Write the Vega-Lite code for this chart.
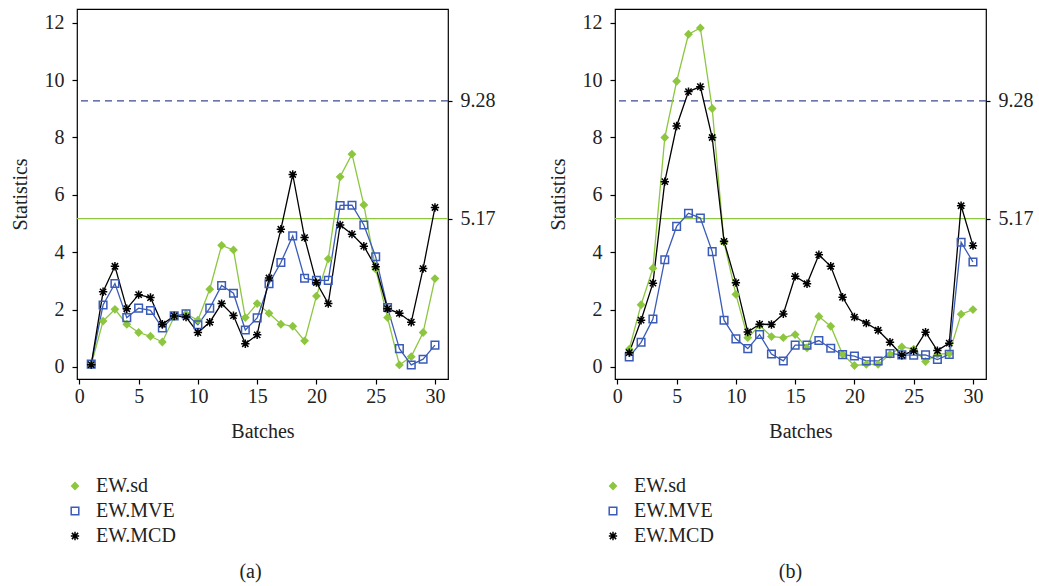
{
  "$schema": "https://vega.github.io/schema/vega-lite/v6.json",
  "padding": {"left": 9, "top": 8, "right": 0, "bottom": 0},
  "background": "white",
  "spacing": 167,
  "bounds": "flush",
  "datasets": {
    "a": [
      {"batch":1,"series":"EW.sd","value":0.08},{"batch":2,"series":"EW.sd","value":1.60},{"batch":3,"series":"EW.sd","value":2.01},{"batch":4,"series":"EW.sd","value":1.49},{"batch":5,"series":"EW.sd","value":1.20},{"batch":6,"series":"EW.sd","value":1.07},{"batch":7,"series":"EW.sd","value":0.87},{"batch":8,"series":"EW.sd","value":1.75},{"batch":9,"series":"EW.sd","value":1.85},{"batch":10,"series":"EW.sd","value":1.63},{"batch":11,"series":"EW.sd","value":2.71},{"batch":12,"series":"EW.sd","value":4.24},{"batch":13,"series":"EW.sd","value":4.08},{"batch":14,"series":"EW.sd","value":1.72},{"batch":15,"series":"EW.sd","value":2.21},{"batch":16,"series":"EW.sd","value":1.87},{"batch":17,"series":"EW.sd","value":1.49},{"batch":18,"series":"EW.sd","value":1.42},{"batch":19,"series":"EW.sd","value":0.91},{"batch":20,"series":"EW.sd","value":2.47},{"batch":21,"series":"EW.sd","value":3.77},{"batch":22,"series":"EW.sd","value":6.63},{"batch":23,"series":"EW.sd","value":7.42},{"batch":24,"series":"EW.sd","value":5.65},{"batch":25,"series":"EW.sd","value":3.41},{"batch":26,"series":"EW.sd","value":1.72},{"batch":27,"series":"EW.sd","value":0.07},{"batch":28,"series":"EW.sd","value":0.36},{"batch":29,"series":"EW.sd","value":1.20},{"batch":30,"series":"EW.sd","value":3.08},
      {"batch":1,"series":"EW.MVE","value":0.10},{"batch":2,"series":"EW.MVE","value":2.16},{"batch":3,"series":"EW.MVE","value":2.91},{"batch":4,"series":"EW.MVE","value":1.72},{"batch":5,"series":"EW.MVE","value":2.05},{"batch":6,"series":"EW.MVE","value":1.97},{"batch":7,"series":"EW.MVE","value":1.36},{"batch":8,"series":"EW.MVE","value":1.78},{"batch":9,"series":"EW.MVE","value":1.85},{"batch":10,"series":"EW.MVE","value":1.47},{"batch":11,"series":"EW.MVE","value":2.05},{"batch":12,"series":"EW.MVE","value":2.84},{"batch":13,"series":"EW.MVE","value":2.57},{"batch":14,"series":"EW.MVE","value":1.29},{"batch":15,"series":"EW.MVE","value":1.71},{"batch":16,"series":"EW.MVE","value":2.90},{"batch":17,"series":"EW.MVE","value":3.64},{"batch":18,"series":"EW.MVE","value":4.57},{"batch":19,"series":"EW.MVE","value":3.09},{"batch":20,"series":"EW.MVE","value":3.02},{"batch":21,"series":"EW.MVE","value":3.02},{"batch":22,"series":"EW.MVE","value":5.63},{"batch":23,"series":"EW.MVE","value":5.64},{"batch":24,"series":"EW.MVE","value":4.95},{"batch":25,"series":"EW.MVE","value":3.84},{"batch":26,"series":"EW.MVE","value":2.07},{"batch":27,"series":"EW.MVE","value":0.64},{"batch":28,"series":"EW.MVE","value":0.07},{"batch":29,"series":"EW.MVE","value":0.27},{"batch":30,"series":"EW.MVE","value":0.76},
      {"batch":1,"series":"EW.MCD","value":0.08},{"batch":2,"series":"EW.MCD","value":2.62},{"batch":3,"series":"EW.MCD","value":3.51},{"batch":4,"series":"EW.MCD","value":2.03},{"batch":5,"series":"EW.MCD","value":2.52},{"batch":6,"series":"EW.MCD","value":2.42},{"batch":7,"series":"EW.MCD","value":1.49},{"batch":8,"series":"EW.MCD","value":1.78},{"batch":9,"series":"EW.MCD","value":1.74},{"batch":10,"series":"EW.MCD","value":1.20},{"batch":11,"series":"EW.MCD","value":1.56},{"batch":12,"series":"EW.MCD","value":2.21},{"batch":13,"series":"EW.MCD","value":1.79},{"batch":14,"series":"EW.MCD","value":0.81},{"batch":15,"series":"EW.MCD","value":1.12},{"batch":16,"series":"EW.MCD","value":3.10},{"batch":17,"series":"EW.MCD","value":4.80},{"batch":18,"series":"EW.MCD","value":6.71},{"batch":19,"series":"EW.MCD","value":4.51},{"batch":20,"series":"EW.MCD","value":2.94},{"batch":21,"series":"EW.MCD","value":2.21},{"batch":22,"series":"EW.MCD","value":4.95},{"batch":23,"series":"EW.MCD","value":4.63},{"batch":24,"series":"EW.MCD","value":4.21},{"batch":25,"series":"EW.MCD","value":3.49},{"batch":26,"series":"EW.MCD","value":2.03},{"batch":27,"series":"EW.MCD","value":1.87},{"batch":28,"series":"EW.MCD","value":1.56},{"batch":29,"series":"EW.MCD","value":3.43},{"batch":30,"series":"EW.MCD","value":5.56}
    ],
    "b": [
      {"batch":1,"series":"EW.sd","value":0.62},{"batch":2,"series":"EW.sd","value":2.17},{"batch":3,"series":"EW.sd","value":3.44},{"batch":4,"series":"EW.sd","value":8.00},{"batch":5,"series":"EW.sd","value":9.96},{"batch":6,"series":"EW.sd","value":11.60},{"batch":7,"series":"EW.sd","value":11.82},{"batch":8,"series":"EW.sd","value":9.01},{"batch":9,"series":"EW.sd","value":4.35},{"batch":10,"series":"EW.sd","value":2.53},{"batch":11,"series":"EW.sd","value":1.02},{"batch":12,"series":"EW.sd","value":1.45},{"batch":13,"series":"EW.sd","value":1.06},{"batch":14,"series":"EW.sd","value":1.02},{"batch":15,"series":"EW.sd","value":1.13},{"batch":16,"series":"EW.sd","value":0.67},{"batch":17,"series":"EW.sd","value":1.76},{"batch":18,"series":"EW.sd","value":1.42},{"batch":19,"series":"EW.sd","value":0.44},{"batch":20,"series":"EW.sd","value":0.05},{"batch":21,"series":"EW.sd","value":0.09},{"batch":22,"series":"EW.sd","value":0.09},{"batch":23,"series":"EW.sd","value":0.44},{"batch":24,"series":"EW.sd","value":0.70},{"batch":25,"series":"EW.sd","value":0.62},{"batch":26,"series":"EW.sd","value":0.19},{"batch":27,"series":"EW.sd","value":0.44},{"batch":28,"series":"EW.sd","value":0.47},{"batch":29,"series":"EW.sd","value":1.84},{"batch":30,"series":"EW.sd","value":2.00},
      {"batch":1,"series":"EW.MVE","value":0.35},{"batch":2,"series":"EW.MVE","value":0.86},{"batch":3,"series":"EW.MVE","value":1.67},{"batch":4,"series":"EW.MVE","value":3.74},{"batch":5,"series":"EW.MVE","value":4.90},{"batch":6,"series":"EW.MVE","value":5.36},{"batch":7,"series":"EW.MVE","value":5.19},{"batch":8,"series":"EW.MVE","value":4.02},{"batch":9,"series":"EW.MVE","value":1.63},{"batch":10,"series":"EW.MVE","value":0.98},{"batch":11,"series":"EW.MVE","value":0.64},{"batch":12,"series":"EW.MVE","value":1.13},{"batch":13,"series":"EW.MVE","value":0.45},{"batch":14,"series":"EW.MVE","value":0.21},{"batch":15,"series":"EW.MVE","value":0.76},{"batch":16,"series":"EW.MVE","value":0.76},{"batch":17,"series":"EW.MVE","value":0.92},{"batch":18,"series":"EW.MVE","value":0.65},{"batch":19,"series":"EW.MVE","value":0.43},{"batch":20,"series":"EW.MVE","value":0.38},{"batch":21,"series":"EW.MVE","value":0.21},{"batch":22,"series":"EW.MVE","value":0.21},{"batch":23,"series":"EW.MVE","value":0.47},{"batch":24,"series":"EW.MVE","value":0.42},{"batch":25,"series":"EW.MVE","value":0.41},{"batch":26,"series":"EW.MVE","value":0.42},{"batch":27,"series":"EW.MVE","value":0.26},{"batch":28,"series":"EW.MVE","value":0.44},{"batch":29,"series":"EW.MVE","value":4.35},{"batch":30,"series":"EW.MVE","value":3.66},
      {"batch":1,"series":"EW.MCD","value":0.50},{"batch":2,"series":"EW.MCD","value":1.63},{"batch":3,"series":"EW.MCD","value":2.92},{"batch":4,"series":"EW.MCD","value":6.46},{"batch":5,"series":"EW.MCD","value":8.40},{"batch":6,"series":"EW.MCD","value":9.60},{"batch":7,"series":"EW.MCD","value":9.77},{"batch":8,"series":"EW.MCD","value":8.00},{"batch":9,"series":"EW.MCD","value":4.38},{"batch":10,"series":"EW.MCD","value":2.94},{"batch":11,"series":"EW.MCD","value":1.22},{"batch":12,"series":"EW.MCD","value":1.49},{"batch":13,"series":"EW.MCD","value":1.48},{"batch":14,"series":"EW.MCD","value":1.85},{"batch":15,"series":"EW.MCD","value":3.16},{"batch":16,"series":"EW.MCD","value":2.90},{"batch":17,"series":"EW.MCD","value":3.91},{"batch":18,"series":"EW.MCD","value":3.51},{"batch":19,"series":"EW.MCD","value":2.43},{"batch":20,"series":"EW.MCD","value":1.74},{"batch":21,"series":"EW.MCD","value":1.53},{"batch":22,"series":"EW.MCD","value":1.28},{"batch":23,"series":"EW.MCD","value":0.86},{"batch":24,"series":"EW.MCD","value":0.41},{"batch":25,"series":"EW.MCD","value":0.56},{"batch":26,"series":"EW.MCD","value":1.21},{"batch":27,"series":"EW.MCD","value":0.57},{"batch":28,"series":"EW.MCD","value":0.83},{"batch":29,"series":"EW.MCD","value":5.62},{"batch":30,"series":"EW.MCD","value":4.23}
    ],
    "limits": [{"limit": 9.28, "kind": "upper"}, {"limit": 5.17, "kind": "lower"}]
  },
  "hconcat": [
    {
      "width": 371, "height": 370,
      "title": {"text": "(a)", "orient": "bottom", "anchor": "middle", "offset": 16, "dx": -12},
      "resolve": {"axis": {"y": "independent"}},
      "layer": [
        {
          "data": {"name": "limits"},
          "transform": [{"filter": "datum.kind == 'upper'"}],
          "mark": {"type": "rule", "stroke": "#3b4a94", "strokeDash": [7, 5], "strokeWidth": 1.2},
          "encoding": {"y": {"field": "limit", "type": "quantitative", "scale": {"domain": [-0.42, 12.48], "nice": false, "zero": false},
            "axis": {"orient": "right", "values": [5.17, 9.28], "format": ".2f", "title": null, "tickSize": 4, "labelPadding": 8}}}
        },
        {
          "data": {"name": "limits"},
          "transform": [{"filter": "datum.kind == 'lower'"}],
          "mark": {"type": "rule", "stroke": "#8dc63f", "strokeWidth": 1.3},
          "encoding": {"y": {"field": "limit", "type": "quantitative", "axis": null}}
        },
        {
          "data": {"name": "a"},
          "mark": {"type": "line", "strokeWidth": 1.3},
          "encoding": {
            "x": {"field": "batch", "type": "quantitative", "scale": {"domain": [-0.2, 31.1], "nice": false, "zero": false},
              "axis": {"values": [0, 5, 10, 15, 20, 25, 30], "title": "Batches", "titlePadding": 15}},
            "y": {"field": "value", "type": "quantitative",
              "axis": {"values": [0, 2, 4, 6, 8, 10, 12], "title": "Statistics", "titlePadding": 14, "labelPadding": 8}},
            "stroke": {"field": "series", "type": "nominal", "scale": {"domain": ["EW.sd", "EW.MVE", "EW.MCD"], "range": ["#8dc63f", "#3a5bb8", "#000000"]}}
          }
        },
        {
          "data": {"name": "a"},
          "mark": {"type": "point", "strokeWidth": 1.5, "opacity": 1},
          "encoding": {
            "x": {"field": "batch", "type": "quantitative"},
            "y": {"field": "value", "type": "quantitative", "axis": null},
            "shape": {"field": "series", "type": "nominal", "scale": {"domain": ["EW.sd", "EW.MVE", "EW.MCD"], "range": ["diamond", "square", "M-1,0L1,0M0,-1L0,1M-0.75,-0.75L0.75,0.75M-0.75,0.75L0.75,-0.75"]},
              "legend": {"orient": "none", "legendX": -12, "legendY": 467, "title": null, "rowPadding": 5, "labelOffset": 11, "padding": 0}},
            "stroke": {"field": "series", "type": "nominal"},
            "fill": {"field": "series", "type": "nominal", "scale": {"domain": ["EW.sd", "EW.MVE", "EW.MCD"], "range": ["#8dc63f", "transparent", "transparent"]}},
            "size": {"field": "series", "type": "nominal", "scale": {"domain": ["EW.sd", "EW.MVE", "EW.MCD"], "range": [45, 70, 64]}}
          }
        }
      ]
    },
    {
      "width": 371, "height": 370,
      "title": {"text": "(b)", "orient": "bottom", "anchor": "middle", "offset": 16, "dx": -10},
      "resolve": {"axis": {"y": "independent"}},
      "layer": [
        {
          "data": {"name": "limits"},
          "transform": [{"filter": "datum.kind == 'upper'"}],
          "mark": {"type": "rule", "stroke": "#3b4a94", "strokeDash": [7, 5], "strokeWidth": 1.2},
          "encoding": {"y": {"field": "limit", "type": "quantitative", "scale": {"domain": [-0.42, 12.48], "nice": false, "zero": false},
            "axis": {"orient": "right", "values": [5.17, 9.28], "format": ".2f", "title": null, "tickSize": 4, "labelPadding": 8}}}
        },
        {
          "data": {"name": "limits"},
          "transform": [{"filter": "datum.kind == 'lower'"}],
          "mark": {"type": "rule", "stroke": "#8dc63f", "strokeWidth": 1.3},
          "encoding": {"y": {"field": "limit", "type": "quantitative", "axis": null}}
        },
        {
          "data": {"name": "b"},
          "mark": {"type": "line", "strokeWidth": 1.3},
          "encoding": {
            "x": {"field": "batch", "type": "quantitative", "scale": {"domain": [-0.2, 31.1], "nice": false, "zero": false},
              "axis": {"values": [0, 5, 10, 15, 20, 25, 30], "title": "Batches", "titlePadding": 15}},
            "y": {"field": "value", "type": "quantitative",
              "axis": {"values": [0, 2, 4, 6, 8, 10, 12], "title": "Statistics", "titlePadding": 14, "labelPadding": 8}},
            "stroke": {"field": "series", "type": "nominal", "scale": {"domain": ["EW.sd", "EW.MVE", "EW.MCD"], "range": ["#8dc63f", "#3a5bb8", "#000000"]}}
          }
        },
        {
          "data": {"name": "b"},
          "mark": {"type": "point", "strokeWidth": 1.5, "opacity": 1},
          "encoding": {
            "x": {"field": "batch", "type": "quantitative"},
            "y": {"field": "value", "type": "quantitative", "axis": null},
            "shape": {"field": "series", "type": "nominal", "scale": {"domain": ["EW.sd", "EW.MVE", "EW.MCD"], "range": ["diamond", "square", "M-1,0L1,0M0,-1L0,1M-0.75,-0.75L0.75,0.75M-0.75,0.75L0.75,-0.75"]},
              "legend": {"orient": "none", "legendX": -12, "legendY": 467, "title": null, "rowPadding": 5, "labelOffset": 11, "padding": 0}},
            "stroke": {"field": "series", "type": "nominal"},
            "fill": {"field": "series", "type": "nominal", "scale": {"domain": ["EW.sd", "EW.MVE", "EW.MCD"], "range": ["#8dc63f", "transparent", "transparent"]}},
            "size": {"field": "series", "type": "nominal", "scale": {"domain": ["EW.sd", "EW.MVE", "EW.MCD"], "range": [45, 70, 64]}}
          }
        }
      ]
    }
  ],
  "resolve": {"scale": {"shape": "independent", "stroke": "independent", "fill": "independent", "size": "independent"}, "legend": {"shape": "independent", "stroke": "independent", "fill": "independent", "size": "independent"}},
  "config": {
    "font": "Liberation Serif",
    "view": {"stroke": "#000000", "strokeWidth": 1.2},
    "axis": {"labelFont": "Liberation Serif", "labelFontSize": 20, "labelColor": "#222222", "titleFont": "Liberation Serif", "titleFontSize": 20, "titleFontWeight": "normal", "titleColor": "#222222", "tickColor": "#000000", "tickSize": 5, "tickWidth": 1.2, "domain": false, "grid": false},
    "legend": {"labelFont": "Liberation Serif", "labelFontSize": 20, "labelColor": "#222222", "symbolStrokeWidth": 1.5},
    "title": {"font": "Liberation Serif", "fontSize": 20, "fontWeight": "normal", "color": "#222222"}
  }
}
